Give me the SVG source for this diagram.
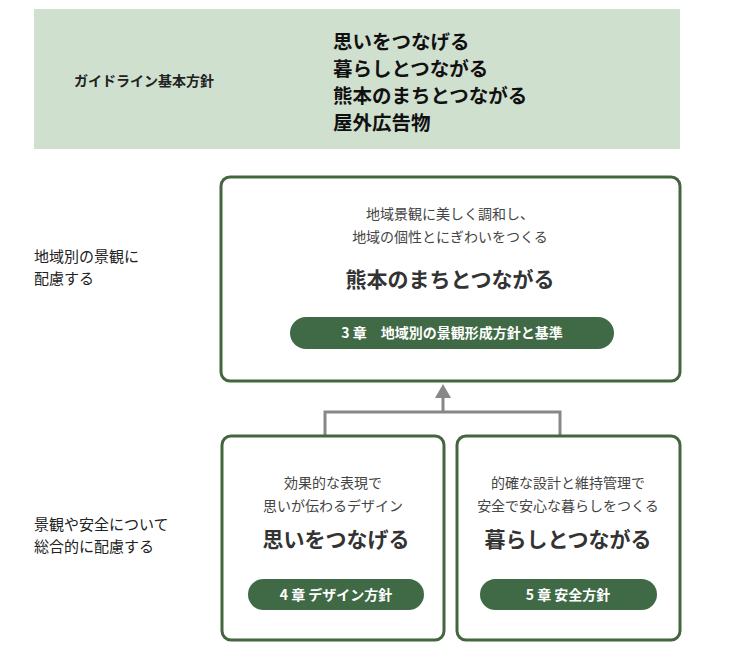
<svg xmlns="http://www.w3.org/2000/svg" width="732" height="659" viewBox="0 0 732 659">
<style>
text{font-family:"Noto Sans CJK JP","Noto Sans",sans-serif;fill:#222}
.box{fill:#fff;stroke:#44663f;stroke-width:3}
.pill{fill:#3f6a45}
.pt{fill:#fff;font-size:14px;font-weight:bold;text-anchor:middle}
.sub{font-size:14px;text-anchor:middle;fill:#444}
.big{font-size:21px;font-weight:bold;text-anchor:middle;fill:#333}
.side{font-size:15px}
.hd{font-size:19.5px;font-weight:bold;fill:#111}
</style>
<rect x="34" y="9" width="646" height="140" fill="#d0e0cf"/>
<text x="74" y="86" font-size="14" font-weight="bold">ガイドライン基本方針</text>
<text class="hd" x="333" y="49">思いをつなげる</text>
<text class="hd" x="333" y="76">暮らしとつながる</text>
<text class="hd" x="333" y="103">熊本のまちとつながる</text>
<text class="hd" x="333" y="130">屋外広告物</text>
<text class="side" x="34" y="262">地域別の景観に</text>
<text class="side" x="34" y="284">配慮する</text>
<text class="side" x="34" y="530">景観や安全について</text>
<text class="side" x="34" y="552">総合的に配慮する</text>
<g id="connectors" stroke="#888" stroke-width="3" fill="none">
<path d="M325 436V412H560V436M443 412V397"/>
<path d="M435 398L443 384L451 398Z" fill="#888" stroke="none"/>
</g>
<g id="top">
<rect class="box" x="221" y="177" width="459" height="204" rx="9"/>
<text class="sub" x="450" y="219">地域景観に美しく調和し、</text>
<text class="sub" x="450" y="242">地域の個性とにぎわいをつくる</text>
<text class="big" x="450" y="287">熊本のまちとつながる</text>
<rect class="pill" x="290" y="317" width="324" height="32" rx="16"/>
<text class="pt" x="452" y="338">3 章　地域別の景観形成方針と基準</text>
</g>
<g id="left">
<rect class="box" x="222" y="436" width="222" height="204" rx="9"/>
<text class="sub" x="333" y="488">効果的な表現で</text>
<text class="sub" x="333" y="511">思いが伝わるデザイン</text>
<text class="big" x="336" y="547">思いをつなげる</text>
<rect class="pill" x="248" y="579" width="176" height="31" rx="15.5"/>
<text class="pt" x="336" y="600">4 章 デザイン方針</text>
</g>
<g id="right">
<rect class="box" x="457" y="436" width="223" height="204" rx="9"/>
<text class="sub" x="568" y="488">的確な設計と維持管理で</text>
<text class="sub" x="568" y="511">安全で安心な暮らしをつくる</text>
<text class="big" x="568" y="547">暮らしとつながる</text>
<rect class="pill" x="480" y="579" width="177" height="31" rx="15.5"/>
<text class="pt" x="568" y="600">5 章 安全方針</text>
</g>
</svg>
